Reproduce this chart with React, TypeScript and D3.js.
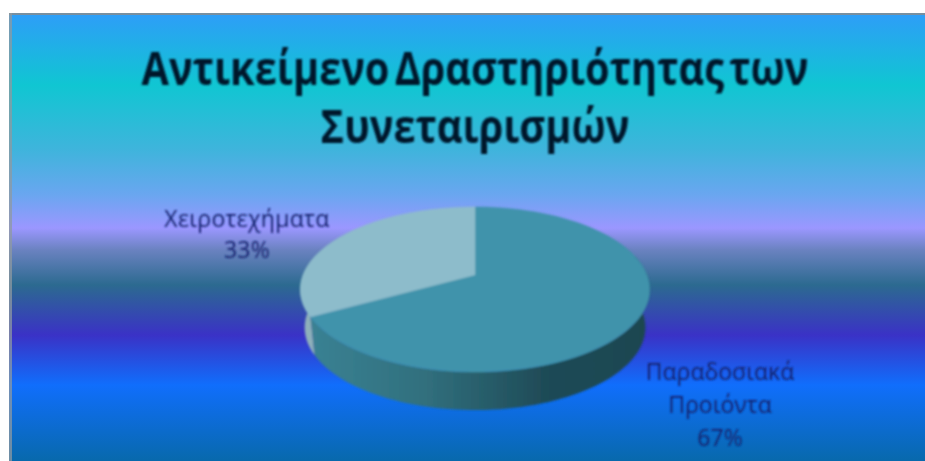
import * as d3 from "d3";

const categories = ["Παραδοσιακά Προιόντα", "Χειροτεχήματα"];
const values = [67, 33];
const sliceColors = ["#3f93ab", "#8dbccb"];
const titleLines = ["Αντικείμενο Δραστηριότητας των", "Συνεταιρισμών"];
const labelLines = [["Παραδοσιακά", "Προιόντα", "67%"], ["Χειροτεχήματα", "33%"]];

const bgStops: [number, string][] = [
  [13, "#2e9df8"],
  [85, "#10c6d2"],
  [150, "#3fb4dc"],
  [195, "#6aa6f0"],
  [228, "#9b97ff"],
  [250, "#6a82c0"],
  [285, "#2c6a90"],
  [335, "#3a32c6"],
  [385, "#106efc"],
  [461, "#0869ac"],
];

const width = 925;
const height = 461;

// the pie is a tilted disc seen in perspective, so the centre sits above the ellipse middle
const cx = 475;
const apexY = 275;
const rx = 172;
const ry = 80;
const tilt = 0.1757;
const depth = 38;
const bottomShrink = 0.975; // lower rim reads slightly narrower than the top one

const project = (a: number): [number, number] => {
  const u = Math.sin(a);
  const v = Math.cos(a);
  const w = 1 + tilt * v;
  return [cx + (rx * u) / w, apexY - (ry * v) / w];
};

const line = d3.line<[number, number]>();

const sample = (a0: number, a1: number) =>
  d3.range(0, 81).map((i) => project(a0 + ((a1 - a0) * i) / 80));

const pie = d3.pie<number>().sort(null);
const slices = pie(values);

// side wall only exists on the front half of the disc
const frontStart = Math.PI * 0.42;
const frontEnd = Math.PI * 1.58;

const wallPath = (a0: number, a1: number) => {
  const top = sample(a0, a1);
  const bottom = top
    .map(([x, y]) => [cx + (x - cx) * bottomShrink, y + depth] as [number, number])
    .reverse();
  return line([...top, ...bottom]) + "Z";
};

export default function App() {
  const y = d3.scaleLinear().domain([0, height]).range([0, 1]);
  return (
    <svg
      width={width}
      height={height}
      style={{ position: "absolute", left: 0, top: 0, display: "block" }}
      fontFamily="'Open Sans', 'Noto Sans', sans-serif"
    >
      <defs>
        <linearGradient id="bg" x1="0" y1="0" x2="0" y2={height} gradientUnits="userSpaceOnUse">
          {bgStops.map(([p, c]) => (
            <stop key={p} offset={y(p)} stopColor={c} />
          ))}
        </linearGradient>
        <linearGradient id="wallDark" x1="300" x2="650" y1="0" y2="0" gradientUnits="userSpaceOnUse">
          <stop offset="0" stopColor="#3b8395" />
          <stop offset="0.35" stopColor="#31707e" />
          <stop offset="0.7" stopColor="#1f4b57" />
          <stop offset="1" stopColor="#1e4650" />
        </linearGradient>
        <filter id="soft" x="-5%" y="-5%" width="110%" height="110%">
          <feGaussianBlur stdDeviation="0.8" />
        </filter>
      </defs>
      <rect width={width} height={height} fill="#fff" />
      <rect x={9} y={13} width={width - 9} height={height - 13} fill="url(#bg)" />
      <rect x={9} y={13} width={width - 9} height={2} fill="#788f9f" />
      <rect x={9} y={13} width={3} height={height - 13} fill="#8f9aa0" opacity={0.75} />

      <g filter="url(#soft)">
        {slices.map((s, i) => {
          const a0 = Math.max(s.startAngle, frontStart);
          const a1 = Math.min(s.endAngle, frontEnd);
          return (
            <path key={"w" + i} d={wallPath(a0, a1)} fill={i === 0 ? "url(#wallDark)" : "#8fb0ba"} />
          );
        })}
        {slices.map((s, i) => (
          <path
            key={"t" + i}
            d={line([[cx, apexY], ...sample(s.startAngle, s.endAngle)]) + "Z"}
            fill={sliceColors[i]}
            stroke={sliceColors[i]}
            strokeWidth={0.5}
          />
        ))}
        <g fill="#06142b" fontWeight={700} fontSize={47} textAnchor="middle" wordSpacing={-6}>
          {titleLines.map((t, i) => (
            <text key={t} transform={`translate(475,${85 + i * 58}) scale(0.845,1)`}>
              {t}
            </text>
          ))}
        </g>
        <g fill="#14246e" fontSize={23} textAnchor="middle">
          {labelLines[1].map((t, i) => (
            <text key={t} x={247} y={227 + i * 31} letterSpacing={0.3}>
              {t}
            </text>
          ))}
          {labelLines[0].map((t, i) => (
            <text key={t} x={720} y={380 + i * 33}>
              {t}
            </text>
          ))}
        </g>
      </g>
      <title>{categories.join(", ")}</title>
    </svg>
  );
}
